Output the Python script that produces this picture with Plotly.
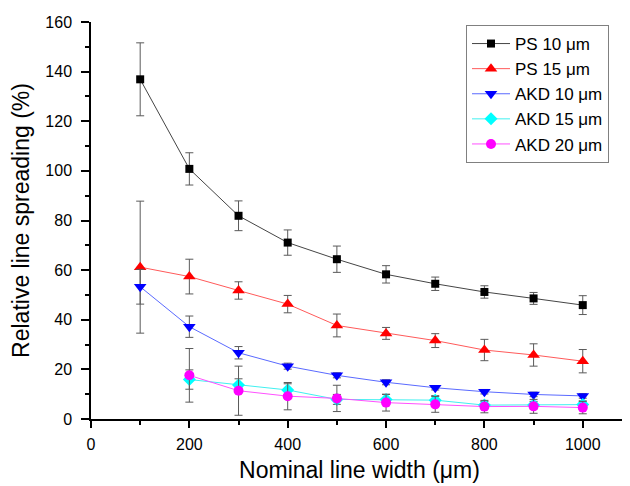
import plotly.graph_objects as go

x_all = [100, 200, 300, 400, 500, 600, 700, 800, 900, 1000]
x_akd = [200, 300, 400, 500, 600, 700, 800, 900, 1000]

ps10 = [136.9, 100.8, 81.9, 71.1, 64.4, 58.3, 54.5, 51.2, 48.6, 45.9]
ps10_err = [14.7, 6.5, 6.0, 5.1, 5.3, 3.5, 2.7, 2.5, 2.4, 3.8]

ps15 = [61.2, 57.4, 51.8, 46.3, 37.7, 34.5, 31.6, 27.8, 25.8, 23.3]
ps15_err = [26.6, 7.0, 3.5, 3.5, 4.6, 2.4, 2.8, 4.3, 4.5, 4.7]

akd10 = [53.3, 37.2, 26.7, 21.3, 17.6, 14.8, 12.6, 11.0, 9.9, 9.3]
akd10_err = [7.0, 4.3, 2.5, 1.2, 1.0, 1.0, 0.9, 0.9, 0.9, 0.9]

akd15 = [15.9, 13.7, 11.7, 7.9, 7.9, 7.6, 5.6, 5.6, 5.8]
akd15_err = [3.9, 2.5, 2.5, 2.0, 2.0, 1.8, 1.5, 1.5, 1.5]

akd20 = [17.6, 11.4, 9.2, 8.3, 6.6, 5.9, 5.0, 5.1, 4.6]
akd20_err = [10.8, 9.9, 5.5, 5.3, 3.4, 3.2, 2.5, 2.8, 2.5]

series = [
    ("PS 10 μm", x_all, ps10, ps10_err, "black", "#454545", "square", 8),
    ("PS 15 μm", x_all, ps15, ps15_err, "#ff0000", "#ff5a5a", "triangle-up", 11),
    ("AKD 10 μm", x_all, akd10, akd10_err, "#0000ff", "#5a6aff", "triangle-down", 11),
    ("AKD 15 μm", x_akd, akd15, akd15_err, "#00ffff", "#40f0f0", "diamond", 10),
    ("AKD 20 μm", x_akd, akd20, akd20_err, "#ff00ff", "#ff50ff", "circle", 10),
]

fig = go.Figure()
for name, xs, ys, es, mc, lc, sym, sz in series:
    fig.add_trace(go.Scatter(
        x=xs, y=ys, name=name, mode="lines+markers",
        line=dict(color=lc, width=1),
        marker=dict(symbol=sym, size=sz, color=mc, line=dict(width=0)),
        error_y=dict(type="data", array=es, visible=True,
                     color="#5a5a5a", thickness=1, width=4),
    ))

font = "Liberation Sans, Arial, sans-serif"
# page body has an 8px margin, so the figure is sized to fit the window
W, H = 622, 478
L, R, T, B = 83, 2, 14, 67
pw = W - L - R
ph = H - T - B
fig.update_layout(
    width=W, height=H,
    margin=dict(l=L, r=R, t=T, b=B, autoexpand=False),
    plot_bgcolor="white", paper_bgcolor="white",
    font=dict(family=font, color="black", size=16),
    showlegend=True,
    legend=dict(
        x=(458 - L) / pw, y=(H - B - 17) / ph, xanchor="left", yanchor="top",
        bordercolor="#808080", borderwidth=1, bgcolor="white",
        font=dict(family=font, size=17, color="black"),
        tracegroupgap=0, itemwidth=38,
    ),
)
fig.update_xaxes(
    range=[0, 1092], dtick=200, tick0=0,
    showgrid=False, zeroline=False,
    showline=True, linecolor="black", linewidth=1.5,
    ticks="outside", ticklen=7, tickwidth=1.5, tickcolor="black",
    tickfont=dict(size=16), ticklabelstandoff=3,
    minor=dict(dtick=100, tick0=0, ticks="outside", ticklen=4, tickwidth=1.5, tickcolor="black"),
    title=dict(text="Nominal line width (μm)", font=dict(size=23), standoff=10),
)
fig.update_yaxes(
    range=[0, 160], dtick=20, tick0=0,
    showgrid=False, zeroline=False,
    showline=True, linecolor="black", linewidth=1.5,
    ticks="outside", ticklen=8, tickwidth=1.5, tickcolor="black",
    tickfont=dict(size=16), ticklabelstandoff=6,
    minor=dict(dtick=10, tick0=0, ticks="outside", ticklen=4, tickwidth=1.5, tickcolor="black"),
    title=dict(text="Relative line spreading (%)", font=dict(size=23), standoff=10),
)

fig.write_html("out.html")
